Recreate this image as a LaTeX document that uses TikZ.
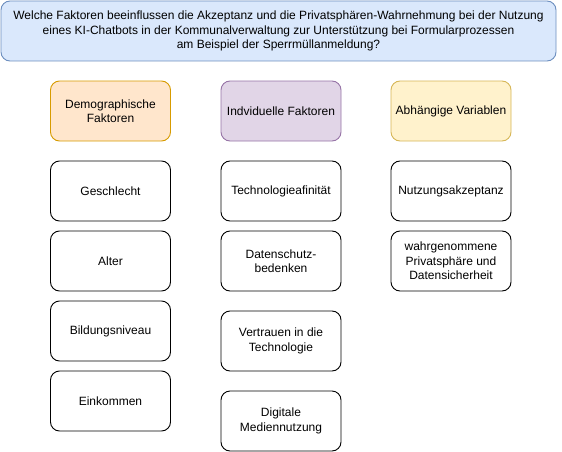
\documentclass[tikz,border=0pt]{standalone}
\usepackage{fontspec}
\setmainfont{Liberation Sans}
\definecolor{hdrfill}{HTML}{DAE8FC}
\definecolor{hdrline}{HTML}{6C8EBF}
\definecolor{orfill}{HTML}{FFE6CC}
\definecolor{orline}{HTML}{D79B00}
\definecolor{pufill}{HTML}{E1D5E7}
\definecolor{puline}{HTML}{9673A6}
\definecolor{yefill}{HTML}{FFF2CC}
\definecolor{yeline}{HTML}{D6B656}
\tikzset{
  box/.style={draw=black, fill=white, rounded corners=9pt, line width=0.9pt,
    minimum width=120pt, minimum height=60pt, inner sep=0pt, align=center,
    font=\fontsize{12pt}{14.5pt}\selectfont},
  hdr/.style={box, draw=hdrline, fill=hdrfill, minimum width=555pt},
  catA/.style={box, draw=orline, fill=orfill},
  catB/.style={box, draw=puline, fill=pufill},
  catC/.style={box, draw=yeline, fill=yefill},
}
\begin{document}
\begin{tikzpicture}[x=1pt,y=-1pt]
\useasboundingbox (0,0) rectangle (562,452);
\node[hdr] (q) at (278.5,31) {Welche Faktoren beeinflussen die Akzeptanz und die Privatsphären-Wahrnehmung bei der Nutzung\\eines KI-Chatbots in der Kommunalverwaltung zur Unterstützung bei Formularprozessen\\am Beispiel der Sperrmüllanmeldung?};
\node[catA] (demo) at (110.5,111) {Demographische\\Faktoren};
\node[catB] (indiv) at (281,111) {Indviduelle Faktoren};
\node[catC] (abh) at (451,111) {Abhängige Variablen};
\node[box] (g) at (110.5,191) {Geschlecht};
\node[box] (a) at (110.5,261) {Alter};
\node[box] (b) at (110.5,331) {Bildungsniveau};
\node[box] (e) at (110.5,401) {Einkommen};
\node[box] (t) at (281,191) {Technologieafinität};
\node[box] (d) at (281,261) {Datenschutz-\\bedenken};
\node[box] (v) at (281,341) {Vertrauen in die\\Technologie};
\node[box] (m) at (281,421) {Digitale\\Mediennutzung};
\node[box] (n) at (451,191) {Nutzungsakzeptanz};
\node[box] (w) at (451,261) {wahrgenommene\\Privatsphäre und\\Datensicherheit};
\end{tikzpicture}
\end{document}
